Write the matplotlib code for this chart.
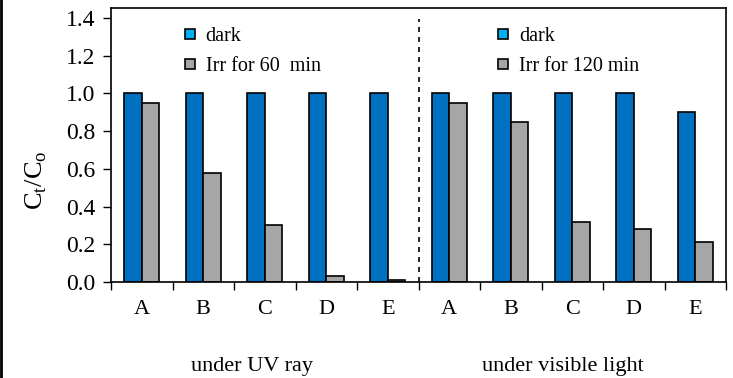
import numpy as np
import matplotlib.pyplot as plt
from matplotlib.lines import Line2D

plt.rcParams["font.family"] = ["Liberation Serif", "DejaVu Serif"]

# ---------------- data ----------------
samples = ["A", "B", "C", "D", "E"]
uv_dark = [1.0, 1.0, 1.0, 1.0, 1.0]
uv_irr = [0.95, 0.58, 0.30, 0.03, 0.01]
vis_dark = [1.0, 1.0, 1.0, 1.0, 0.90]
vis_irr = [0.95, 0.85, 0.32, 0.28, 0.21]
groups = ["under UV ray", "under visible light"]
legend_irr = ["Irr for 60  min", "Irr for 120 min"]

dark_all = uv_dark + vis_dark
irr_all = uv_irr + vis_irr
labels = samples + samples

blue = "#0070C0"
gray = "#A6A6A6"
leg_blue = "#00B0F0"

fig = plt.figure(figsize=(7.33, 3.78), dpi=100)
ax = fig.add_axes([111 / 733, 1 - 282 / 378, (726 - 111) / 733, (282 - 8) / 378])

x = np.arange(len(labels))
w = 0.285
ax.bar(x - w / 2, dark_all, w, color=blue, edgecolor="black", linewidth=1.2)
ax.bar(x + w / 2, irr_all, w, color=gray, edgecolor="black", linewidth=1.2)

ax.set_xlim(-0.5, len(labels) - 0.5)
ax.set_ylim(0, 1.453)
yt = np.arange(0, 1.41, 0.2)
ax.set_yticks(yt)
ax.set_yticklabels([f"{v:.1f}" for v in yt])
ax.set_xticks(np.arange(-0.5, len(labels), 1.0))
ax.set_xticklabels([])
ax.set_xticks(x, minor=True)
ax.set_xticklabels(labels, minor=True)
ax.tick_params(axis="x", which="major", direction="out", length=6, width=1)
ax.tick_params(axis="x", which="minor", length=0, pad=13, labelsize=16)
ax.tick_params(axis="y", direction="out", length=6, width=1, labelsize=17, pad=5)
for s in ax.spines.values():
    s.set_linewidth(1.2)

ax.set_ylabel("C$_\\mathregular{t}$/C$_\\mathregular{o}$", fontsize=19)
ax.yaxis.set_label_coords(-0.1, 0.37)

# divider between the two groups
ax.axvline(4.5, ymin=0, ymax=0.96, color="black", linestyle=(0, (3, 3)), linewidth=1.2)

# group labels
ax.text(1.8, -0.45, groups[0], ha="center", va="center", fontsize=16)
ax.text(6.85, -0.45, groups[1], ha="center", va="center", fontsize=16)

# legends (one per group)
def legend_handles():
    return [
        Line2D([], [], marker="s", linestyle="none", markersize=7.5,
               markerfacecolor=leg_blue, markeredgecolor="black", markeredgewidth=1.2),
        Line2D([], [], marker="s", linestyle="none", markersize=7.5,
               markerfacecolor=gray, markeredgecolor="black", markeredgewidth=1.2),
    ]

leg_kw = dict(loc="upper left", frameon=False, fontsize=14.5,
              handletextpad=0.35, labelspacing=0.55, handlelength=0.9,
              borderaxespad=0.0)
leg1 = ax.legend(legend_handles(), ["dark", legend_irr[0]],
                 bbox_to_anchor=(0.1, 0.96), **leg_kw)
ax.add_artist(leg1)
ax.legend(legend_handles(), ["dark", legend_irr[1]],
          bbox_to_anchor=(0.61, 0.96), **leg_kw)

# left border strip of the original image
fig.add_artist(Line2D([0.0015, 0.0015], [0, 1], transform=fig.transFigure,
                      color="black", linewidth=2))

fig.savefig("out.png", dpi=100)
